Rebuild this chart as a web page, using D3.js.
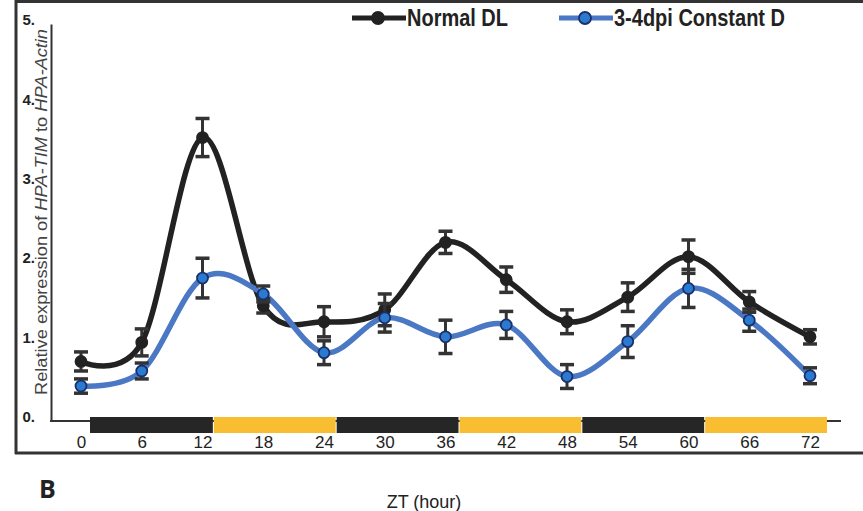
<!DOCTYPE html>
<html><head><meta charset="utf-8">
<script src="https://cdn.jsdelivr.net/npm/d3@7"></script>
<style>body{margin:0;background:#fff}svg{display:block}</style>
</head><body>
<svg id="c" width="863" height="511"></svg>
<script>
const hours = [0,6,12,18,24,30,36,42,48,54,60,66,72];
const normalDL = [0.75,0.99,3.57,1.45,1.25,1.40,2.25,1.78,1.25,1.56,2.07,1.50,1.06];
const normalDLErr = [0.12,0.17,0.24,0.09,0.19,0.20,0.14,0.16,0.15,0.18,0.21,0.13,0.09];
const constantD = [0.44,0.63,1.80,1.60,0.86,1.30,1.06,1.21,0.56,1.00,1.67,1.27,0.57];
const constantDErr = [0.09,0.10,0.25,0.10,0.15,0.18,0.21,0.17,0.15,0.20,0.24,0.14,0.10];
const yTicks = [0,1,2,3,4,5];
const xTicks = [0,6,12,18,24,30,36,42,48,54,60,66,72];
const phases = [
  {start:0, end:12, type:"dark"},{start:12, end:24, type:"light"},
  {start:24, end:36, type:"dark"},{start:36, end:48, type:"light"},
  {start:48, end:60, type:"dark"},{start:60, end:72, type:"light"}];
const seriesNames = ["Normal DL","3-4dpi Constant D"];

const svg = d3.select("#c");
const x = d3.scaleLinear().domain([0,72]).range([81,810]);
const xBar = d3.scaleLinear().domain([0,72]).range([90,827]);
const y = d3.scaleLinear().domain([0,5]).range([421,24]);

// frame
svg.append("line").attr("x1",15).attr("x2",863).attr("y1",1.5).attr("y2",1.5).attr("stroke","#333").attr("stroke-width",3);
svg.append("line").attr("x1",16).attr("x2",16).attr("y1",0).attr("y2",454).attr("stroke","#333").attr("stroke-width",3);
svg.append("line").attr("x1",15).attr("x2",863).attr("y1",453).attr("y2",453).attr("stroke","#333").attr("stroke-width",3);

// y axis
const ya = svg.append("g").attr("transform","translate(51,0)")
  .call(d3.axisLeft(y).tickValues(yTicks).tickSize(0).tickSizeOuter(0).tickPadding(16).tickFormat(d=>d+"."));
ya.select(".domain").attr("stroke","#333").attr("stroke-width",2);
ya.selectAll("text").attr("font-family","Liberation Sans, Arial, sans-serif").attr("font-weight","bold")
  .attr("font-size",15).attr("fill","#222").attr("dy","0.05em");

// x baseline
svg.append("line").attr("x1",50).attr("x2",841).attr("y1",y(0)).attr("y2",y(0)).attr("stroke","#333").attr("stroke-width",2);

// light/dark bars
svg.append("g").selectAll("rect").data(phases).join("rect")
  .attr("x",d=>xBar(d.start)+(d.start>0?1:0)).attr("width",d=>xBar(d.end)-xBar(d.start)-(d.start>0?1:0))
  .attr("y",417).attr("height",16)
  .attr("fill",d=>d.type==="dark"?"#262626":"#f8bd30");

// x axis labels
const xa = svg.append("g").attr("transform","translate(0,434)")
  .call(d3.axisBottom(x).tickValues(xTicks).tickSize(0).tickPadding(2));
xa.select(".domain").remove();
xa.selectAll("text").attr("font-family","Liberation Sans, Arial, sans-serif").attr("font-size",17).attr("fill","#222");

// y title
const yt = svg.append("text").attr("transform","translate(47,212) rotate(-90)")
  .attr("text-anchor","middle").attr("font-family","Liberation Sans, Arial, sans-serif")
  .attr("font-size",16).attr("fill","#444")
  .attr("textLength",366).attr("lengthAdjust","spacingAndGlyphs");
yt.append("tspan").text("Relative expression of ");
yt.append("tspan").attr("font-style","italic").text("HPA-TIM");
yt.append("tspan").text(" to ");
yt.append("tspan").attr("font-style","italic").text("HPA-Actin");

// x title and panel letter
svg.append("text").attr("x",424).attr("y",508).attr("text-anchor","middle")
  .attr("font-family","Liberation Sans, Arial, sans-serif").attr("font-size",18).attr("fill","#222").text("ZT (hour)");
svg.append("text").attr("x",39).attr("y",498)
  .attr("font-family","Open Sans, Noto Sans, sans-serif").attr("font-weight","bold").attr("font-size",25).attr("fill","#222").text("B");

const line = d3.line().x((d,i)=>x(hours[i])).y(d=>y(d)).curve(d3.curveCardinal.tension(0));
const series = [
  {vals:normalDL, err:normalDLErr, stroke:"#222", fill:"#222", mstroke:"#222"},
  {vals:constantD, err:constantDErr, stroke:"#4a78c4", fill:"#2a7ad0", mstroke:"#1b2f6b"}];

series.forEach(s=>{
  svg.append("path").attr("d",line(s.vals)).attr("fill","none").attr("stroke",s.stroke).attr("stroke-width",5.5);
});
series.forEach(s=>{
  const g = svg.append("g");
  hours.forEach((h,i)=>{
    const cx=x(h), y1=y(s.vals[i]+s.err[i]), y2=y(s.vals[i]-s.err[i]);
    g.append("line").attr("x1",cx).attr("x2",cx).attr("y1",y1).attr("y2",y2).attr("stroke","#333").attr("stroke-width",3);
    [y1,y2].forEach(yy=>g.append("line").attr("x1",cx-7).attr("x2",cx+7).attr("y1",yy).attr("y2",yy).attr("stroke","#333").attr("stroke-width",3.5));
  });
  g.selectAll("circle").data(s.vals).join("circle")
    .attr("cx",(d,i)=>x(hours[i])).attr("cy",d=>y(d)).attr("r",5.5)
    .attr("fill",s.fill).attr("stroke",s.mstroke).attr("stroke-width",1.8);
});

// legend
const legX = [352,559], legW = [101,171];
seriesNames.forEach((n,i)=>{
  const s = series[i], g = svg.append("g");
  g.append("line").attr("x1",legX[i]).attr("x2",legX[i]+54).attr("y1",18).attr("y2",18).attr("stroke",s.stroke).attr("stroke-width",5);
  g.append("circle").attr("cx",legX[i]+26).attr("cy",18).attr("r",6).attr("fill",s.fill).attr("stroke",s.mstroke).attr("stroke-width",1.8);
  g.append("text").attr("x",legX[i]+55).attr("y",26).attr("font-family","Liberation Sans, Arial, sans-serif")
    .attr("font-weight","bold").attr("font-size",24).attr("fill","#222")
    .attr("textLength",legW[i]).attr("lengthAdjust","spacingAndGlyphs").text(n);
});
</script>
</body></html>
